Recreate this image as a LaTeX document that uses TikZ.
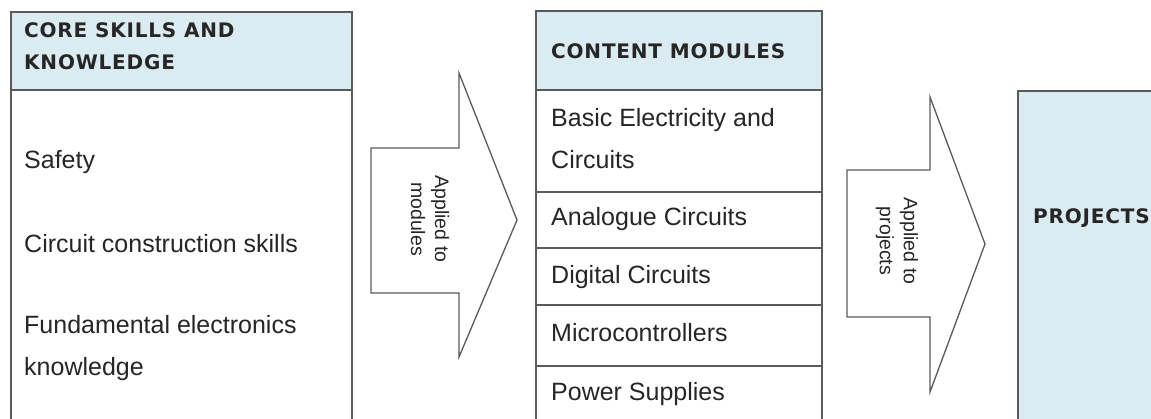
\documentclass[tikz,border=0pt]{standalone}
\usepackage{fontspec}
\setmainfont{Liberation Sans}
\newfontfamily\hdrfont[LetterSpace=4]{DejaVu Sans Bold}
\definecolor{hdrblue}{HTML}{DAECF2}
\definecolor{edge}{HTML}{5A5A5A}
\definecolor{ink}{HTML}{262626}
\tikzset{
  boxw/.style={draw=edge, line width=1.8pt, fill=white, inner sep=0pt, anchor=north west},
  boxh/.style={boxw, fill=hdrblue},
  hdr/.style={text=ink, inner sep=0pt, anchor=base west, align=left, font=\hdrfont\fontsize{20}{32}\selectfont},
  body/.style={text=ink, inner sep=0pt, anchor=base west, align=left, font=\fontsize{25}{41.5}\selectfont},
  blockarrow/.style={draw=edge, line width=1.3pt, fill=white, line join=miter},
  arrtext/.style={text=ink, inner sep=0pt, rotate=-90, align=center, font=\fontsize{19.5}{24}\selectfont}
}
\begin{document}
\begin{tikzpicture}[x=1pt,y=-1pt]
\useasboundingbox (0,0) rectangle (1151,418);
\clip (0,0) rectangle (1151,418);
% left column
\node[boxh, minimum width=341, minimum height=78] (coreh) at (10,11) {};
\node[boxw, minimum width=341, minimum height=345] (coreb) at (10,89) {};
\node[hdr] (coret) at (24,69) {CORE SKILLS AND\\KNOWLEDGE};
\node[body] (safety) at (24,168) {Safety};
\node[body] (circ) at (24,252) {Circuit construction skills};
\node[body] (fund) at (24,375) {Fundamental electronics\\knowledge};
% arrow 1
\path[blockarrow] (371,148) -- (459,148) -- (459,73) -- (517,220) -- (459,357) -- (459,293) -- (371,293) -- cycle;
\node[arrtext] (a1t) at (430,219) {Applied to\\modules};
% middle column
\node[boxh, minimum width=286, minimum height=79] (modh) at (535,10) {};
\node[boxw, minimum width=286, minimum height=102] (m1) at (535,89) {};
\node[boxw, minimum width=286, minimum height=56] (m2) at (535,191) {};
\node[boxw, minimum width=286, minimum height=57] (m3) at (535,247) {};
\node[boxw, minimum width=286, minimum height=61] (m4) at (535,304) {};
\node[boxw, minimum width=286, minimum height=70] (m5) at (535,365) {};
\node[hdr] (modt) at (551,58) {CONTENT MODULES};
\node[body] (m1t) at (551,168) {Basic Electricity and\\Circuits};
\node[body] (m2t) at (551,225) {Analogue Circuits};
\node[body] (m3t) at (551,283) {Digital Circuits};
\node[body] (m4t) at (551,341) {Microcontrollers};
\node[body] (m5t) at (551,400) {Power Supplies};
% arrow 2
\path[blockarrow] (847,170) -- (930,170) -- (930,97) -- (985,244) -- (930,392) -- (930,317) -- (847,317) -- cycle;
\node[arrtext] (a2t) at (897,241) {Applied to\\projects};
% projects
\node[boxh, minimum width=200, minimum height=400] (proj) at (1017,90) {};
\node[hdr] (projt) at (1033,223) {PROJECTS};
\end{tikzpicture}
\end{document}
